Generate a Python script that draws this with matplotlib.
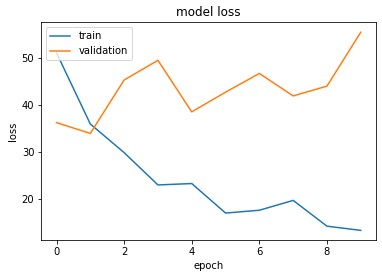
import matplotlib
matplotlib.use("Agg")
import matplotlib.pyplot as plt

epochs = list(range(10))
train_loss = [51.2, 36.0, 29.9, 23.0, 23.3, 17.0, 17.6, 19.7, 14.2, 13.3]
val_loss = [36.3, 34.0, 45.4, 49.6, 38.6, 42.8, 46.8, 42.0, 44.1, 55.6]

W, H = 382, 278
fig = plt.figure(figsize=(W / 72, H / 72), dpi=72)
ax = fig.add_axes([41.3 / W, (H - 240.3) / H, (376 - 41.3) / W, (240.3 - 22.3) / H])
ax.plot(epochs, train_loss, label="train")
ax.plot(epochs, val_loss, label="validation")
ax.set_title("model loss")
ax.set_ylabel("loss")
ax.set_xlabel("epoch")
ax.legend(loc="upper left")
fig.savefig("out.png", dpi=72)
